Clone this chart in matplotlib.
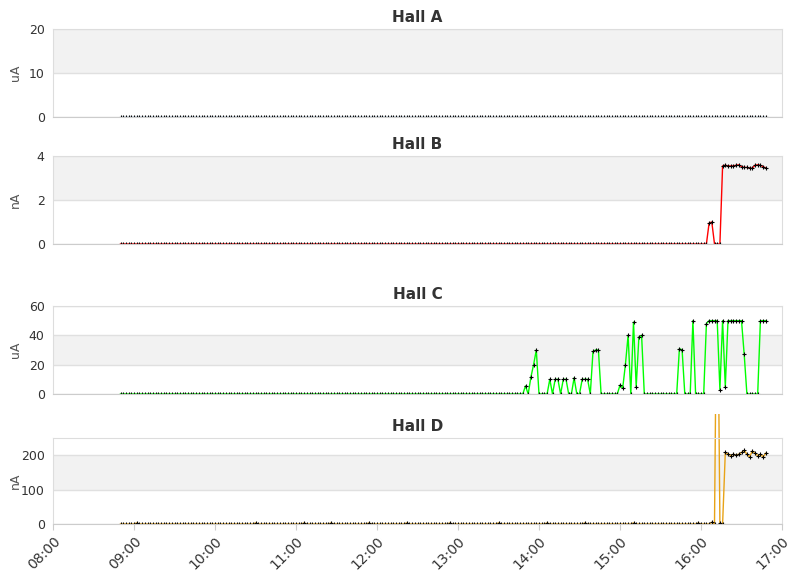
import numpy as np
import matplotlib
matplotlib.use("Agg")
import matplotlib.pyplot as plt
from matplotlib.transforms import Bbox

# sample times: every 2 minutes from 08:50 (hours)
n_pts = 240
t_start_h = 8 + 50/60
t_step_h = 2/60
times = t_start_h + t_step_h*np.arange(n_pts)

hall_a = [0.0]*n_pts

hall_b = [0.0]*n_pts
b_readings = {218: 0.95, 219: 1.0}
b_tail = [3.55,3.58,3.55,3.55,3.55,3.58,3.6,3.52,3.48,3.48,3.45,3.45,3.58,3.6,3.58,3.52,3.45]
for k, v in b_readings.items(): hall_b[k] = v
for j, v in enumerate(b_tail): hall_b[223+j] = v

hall_c = [0.0]*n_pts
c_readings = {150:5.5,152:11.5,153:20,154:30,159:10,161:10,162:10,164:10,165:10,168:11,
              171:10,172:10,173:10,175:29,176:30,177:30,185:6,186:4,187:20,188:40,
              190:49,191:5,192:39,193:40,207:31,208:30,212:50,217:48,218:50,219:50,
              220:50,221:50,222:3,223:50,224:5,225:50,226:50,227:50,228:50,229:50,
              230:50,231:27,237:50,238:50,239:50}
for k, v in c_readings.items(): hall_c[k] = v

hall_d = [0.0]*n_pts
d_readings = {6:3,50:3,68:3,78:3,92:3,106:3,122:3,140:3,158:3,172:3,190:3,214:3,219:5,221:870,222:3}
d_tail = [208,203,199,203,200,203,208,214,203,195,212,205,199,203,195,206]
for k, v in d_readings.items(): hall_d[k] = v
for j, v in enumerate(d_tail): hall_d[224+j] = v

titles = ["Hall A", "Hall B", "Hall C", "Hall D"]
units = ["uA", "nA", "uA", "nA"]
series = [hall_a, hall_b, hall_c, hall_d]
colors = ["#7cb5ec", "#ff0000", "#00ff00", "#e8a317"]
ylims = [(0, 20), (0, 4), (0, 60), (0, 250)]
yticks = [[0, 10, 20], [0, 2, 4], [0, 20, 40, 60], [0, 100, 200]]
bands = [[(10, 20)], [(2, 4)], [(20, 40)], [(100, 200)]]
xtick_hours = list(range(8, 18))
xtick_labels = [f"{h:02d}:00" for h in xtick_hours]

fig = plt.figure(figsize=(8.11, 5.78), dpi=100)
W, H = 811, 578
boxes = [(29, 117), (156, 244), (306, 394), (438, 524)]
for i in range(4):
    top, bot = boxes[i]
    ax = fig.add_axes([53/W, (H-bot)/H, 729/W, (bot-top)/H])
    for lo, hi in bands[i]:
        ax.axhspan(lo, hi, color="#f2f2f2", zorder=0, lw=0)
    for yt in yticks[i]:
        ax.axhline(yt, color="#e0e0e0", lw=1, zorder=0.5)
    ln, = ax.plot(times, series[i], color=colors[i], lw=1, zorder=1.5,
                  marker="+", ms=3, mew=0.8, mec="black")
    ax.set_xlim(8, 17)
    ax.set_ylim(*ylims[i])
    if i == 3:
        p0 = ax.transAxes.transform((0, 0))
        p1 = ax.transAxes.transform((1, 1.28))
        ln.set_clip_box(Bbox([p0, p1]))
        ln.set_clip_on(True)
    ax.set_yticks(yticks[i])
    ax.tick_params(axis="y", length=0, labelsize=9, colors="#333333", pad=6)
    for s in ["top", "right", "left"]:
        ax.spines[s].set_color("#dddddd")
    ax.spines["bottom"].set_color("#cccccc")
    ax.spines["bottom"].set_zorder(3)
    ax.set_ylabel(units[i], fontsize=9, color="#555555")
    ax.yaxis.set_label_coords(-0.043, 0.5)
    ax.set_title(titles[i], fontsize=11, fontweight="bold", color="#333333", pad=5)
    ax.set_xticks(xtick_hours)
    if i == 3:
        ax.set_xticklabels(xtick_labels, rotation=45, ha="right", rotation_mode="anchor",
                           fontsize=10, color="#333333")
        ax.tick_params(axis="x", length=4, color="#cccccc")
    else:
        ax.tick_params(axis="x", length=0, labelbottom=False)

fig.savefig("out.png", dpi=100)
